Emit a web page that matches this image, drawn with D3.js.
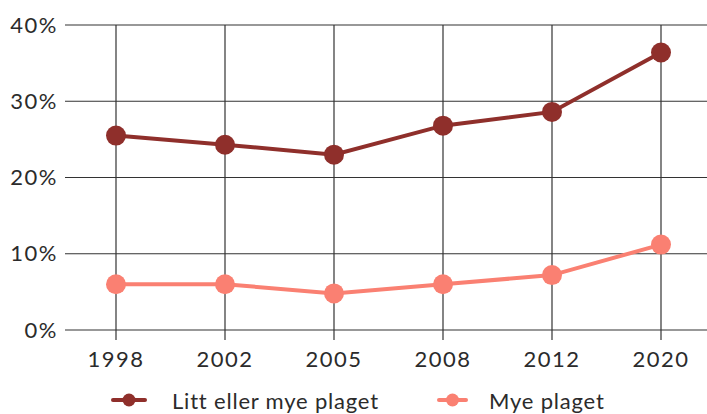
<!DOCTYPE html>
<html>
<head>
<meta charset="utf-8">
<script src="https://cdn.jsdelivr.net/npm/d3@7"></script>
<style>
  html, body { margin: 0; padding: 0; background: #fff; }
  svg text { font-family: Lato, "Noto Sans", sans-serif; fill: #2b2b2b; }
</style>
</head>
<body>
<svg id="chart" width="707" height="414"></svg>
<script>
// data
const years = ["1998", "2002", "2005", "2008", "2012", "2020"];
const littEllerMye = [25.5, 24.3, 23.0, 26.8, 28.6, 36.4];
const myePlaget = [6.0, 6.0, 4.8, 6.0, 7.2, 11.2];
const yTicks = [0, 10, 20, 30, 40];
const seriesNames = ["Litt eller mye plaget", "Mye plaget"];
const seriesColors = ["#8f2f2b", "#fa8072"];

const svg = d3.select("#chart");

const gridLeft = 65, gridRight = 707;
const x = d3.scalePoint().domain(years).range([116, 661]);
const y = d3.scaleLinear().domain([0, 40]).range([330, 25]);

// horisontale linjer + y-tekst
const yAxis = svg.append("g");
yAxis.selectAll("line")
  .data(yTicks)
  .join("line")
  .attr("x1", gridLeft).attr("x2", gridRight)
  .attr("y1", (d) => y(d)).attr("y2", (d) => y(d))
  .attr("stroke", "#333").attr("stroke-width", 1.2);
yAxis.selectAll("text")
  .data(yTicks)
  .join("text")
  .attr("x", 58)
  .attr("y", (d) => y(d))
  .attr("dy", "0.35em")
  .attr("text-anchor", "end")
  .attr("font-size", 22)
  .attr("letter-spacing", 1.5)
  .text((d) => d + "%");

// vertikale linjer + x-tekst
const xAxis = svg.append("g");
xAxis.selectAll("line")
  .data(years)
  .join("line")
  .attr("x1", (d) => x(d)).attr("x2", (d) => x(d))
  .attr("y1", y(40)).attr("y2", y(0) + 10)
  .attr("stroke", "#333").attr("stroke-width", 1.2);
xAxis.selectAll("text")
  .data(years)
  .join("text")
  .attr("x", (d) => x(d))
  .attr("y", 367)
  .attr("text-anchor", "middle")
  .attr("font-size", 22)
  .attr("letter-spacing", 1.5)
  .text((d) => d);

// serier
const series = [littEllerMye, myePlaget];
const line = d3.line()
  .x((d, i) => x(years[i]))
  .y((d) => y(d));

series.forEach((values, s) => {
  const g = svg.append("g");
  g.append("path")
    .datum(values)
    .attr("d", line)
    .attr("fill", "none")
    .attr("stroke", seriesColors[s])
    .attr("stroke-width", 4);
  g.selectAll("circle")
    .data(values)
    .join("circle")
    .attr("cx", (d, i) => x(years[i]))
    .attr("cy", (d) => y(d))
    .attr("r", 10)
    .attr("fill", seriesColors[s]);
});

// legende
const legendX = [111, 437];
const legendLen = [36, 31];
const legendText = [172, 489];
const legend = svg.append("g");
seriesNames.forEach((name, s) => {
  const lg = legend.append("g").attr("transform", "translate(0,400)");
  lg.append("line")
    .attr("x1", legendX[s] + 2).attr("x2", legendX[s] + legendLen[s] - 2)
    .attr("stroke", seriesColors[s])
    .attr("stroke-width", 4)
    .attr("stroke-linecap", "round");
  lg.append("circle")
    .attr("cx", legendX[s] + legendLen[s] / 2).attr("r", 6.5)
    .attr("fill", seriesColors[s]);
  lg.append("text")
    .attr("x", legendText[s])
    .attr("y", 9)
    .attr("font-size", 22)
    .attr("letter-spacing", 0.8)
    .text(name);
});
</script>
</body>
</html>
